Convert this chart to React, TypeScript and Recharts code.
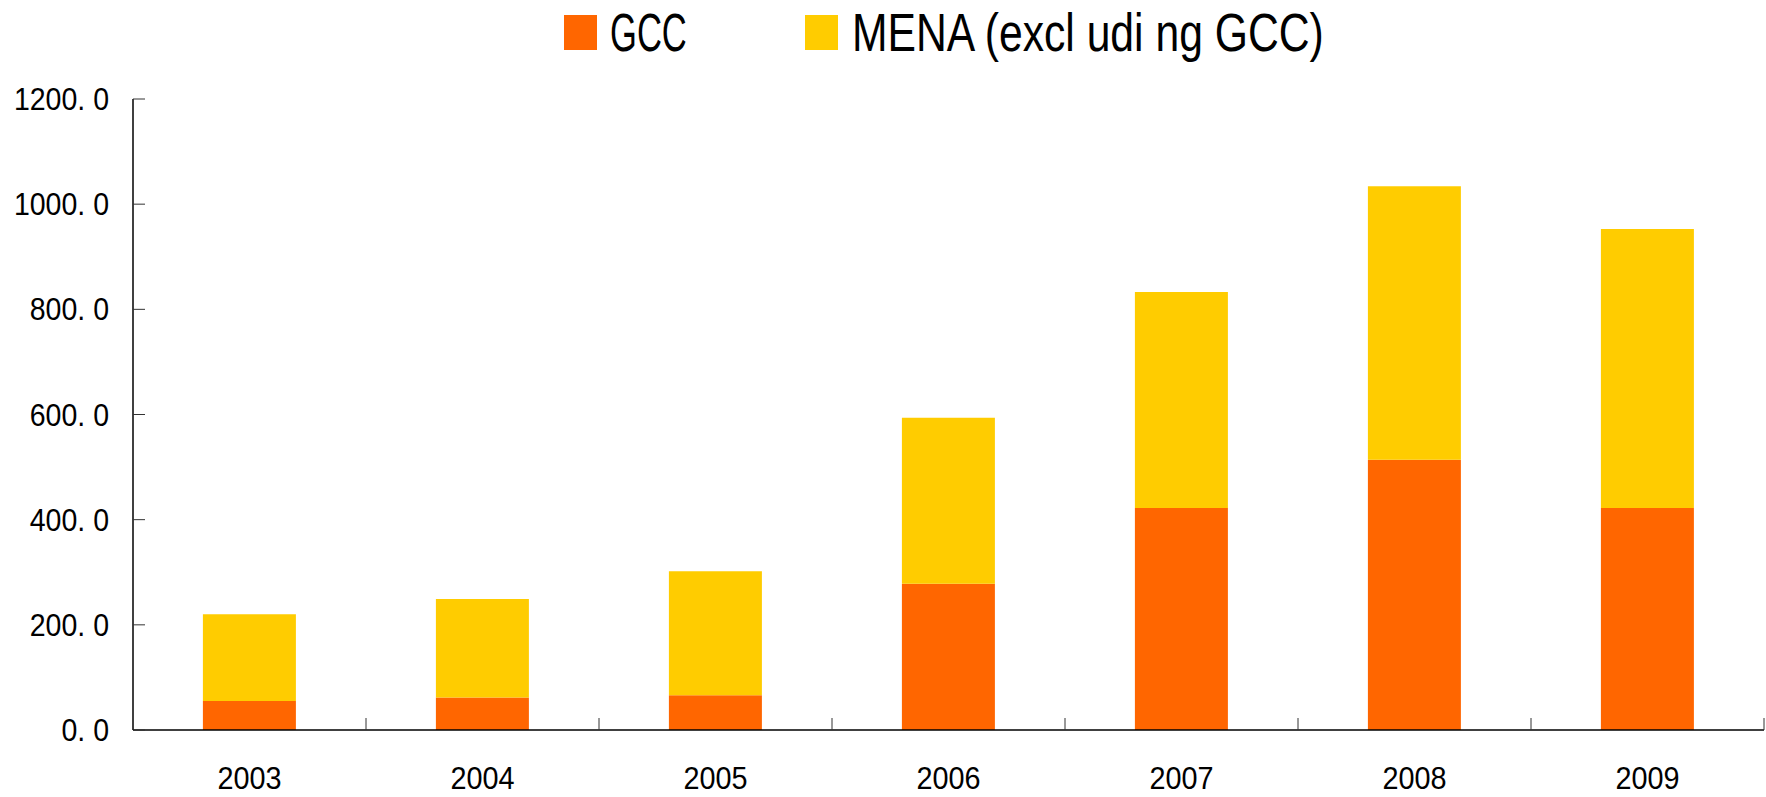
import React from "react";
import { BarChart, Bar, XAxis, YAxis, Legend } from "recharts";

const years = ["2003", "2004", "2005", "2006", "2007", "2008", "2009"];
const gcc = [55, 62, 66, 278, 422, 514, 422];
const mena = [165, 187, 236, 316, 411, 520, 531];
const yTicks = [0, 200, 400, 600, 800, 1000, 1200];
const yTickLabels = ["0. 0", "200. 0", "400. 0", "600. 0", "800. 0", "1000. 0", "1200. 0"];
const seriesNames = ["GCC", "MENA (excl udi ng GCC)"];
const seriesColors = ["#FF6600", "#FFCC00"];

const data = years.map((y, i) => ({ year: y, gcc: gcc[i], mena: mena[i] }));

const W = 1766;
const H = 797;
const LEFT = 133;
const RIGHT = 2;
const TOP = 99;
const LEGEND_H = 70;
const BOTTOM = 67;
const BAND = (W - LEFT - RIGHT) / years.length;
const FONT = "'Liberation Sans', Arial, sans-serif";

const YTick = (props: any) => {
  const { x, y, payload } = props;
  const idx = yTicks.indexOf(payload.value);
  const label = idx >= 0 ? yTickLabels[idx] : String(payload.value);
  return (
    <g>
      <line x1={x} x2={x + 12} y1={y} y2={y} stroke="#333" strokeWidth={1} />
      <text
        transform={`translate(${x - 24},${y}) scale(0.92,1)`}
        textAnchor="end"
        dy={11}
        fontSize={31}
        fontFamily={FONT}
        fill="#000"
      >
        {label}
      </text>
    </g>
  );
};

const XTick = (props: any) => {
  const { x, y, payload } = props;
  return (
    <g>
      <line x1={x + BAND / 2} x2={x + BAND / 2} y1={y} y2={y - 12} stroke="#333" strokeWidth={1} />
      <text
        transform={`translate(${x},${y + 59}) scale(0.93,1)`}
        textAnchor="middle"
        fontSize={31}
        fontFamily={FONT}
        fill="#000"
      >
        {payload.value}
      </text>
    </g>
  );
};

const LegendContent = () => (
  <svg width={W} height={LEGEND_H} style={{ display: "block" }}>
    <rect x={564} y={15} width={33} height={35} fill={seriesColors[0]} />
    <text
      transform={`translate(610,51) scale(0.64,1)`}
      fontSize={54}
      fontFamily={FONT}
      fill="#000"
    >
      {seriesNames[0]}
    </text>
    <rect x={805} y={15} width={33} height={35} fill={seriesColors[1]} />
    <text
      transform={`translate(852,51) scale(0.79,1)`}
      fontSize={54}
      fontFamily={FONT}
      fill="#000"
    >
      {seriesNames[1]}
    </text>
  </svg>
);

export default function App() {
  return (
    <div style={{ position: "absolute", left: 0, top: 0, width: W, height: H, background: "#fff" }}>
      <BarChart
        width={W}
        height={H}
        data={data}
        margin={{ top: TOP - LEGEND_H, right: RIGHT, bottom: 0, left: 0 }}
        barCategoryGap="30%"
      >
        <Legend
          verticalAlign="top"
          align="left"
          height={LEGEND_H}
          wrapperStyle={{ position: "absolute", top: 0, left: 0, width: W, height: LEGEND_H }}
          content={<LegendContent />}
        />
        <XAxis
          dataKey="year"
          height={BOTTOM}
          tickSize={0}
          tickMargin={0}
          tick={<XTick />}
          axisLine={{ stroke: "#000", strokeWidth: 1.5 }}
          interval={0}
        />
        <YAxis
          width={LEFT}
          domain={[0, 1200]}
          ticks={yTicks}
          tickSize={0}
          tickMargin={0}
          tick={<YTick />}
          axisLine={{ stroke: "#000", strokeWidth: 1.5 }}
          interval={0}
        />
        <Bar dataKey="gcc" stackId="a" fill={seriesColors[0]} isAnimationActive={false} />
        <Bar dataKey="mena" stackId="a" fill={seriesColors[1]} isAnimationActive={false} />
      </BarChart>
    </div>
  );
}
